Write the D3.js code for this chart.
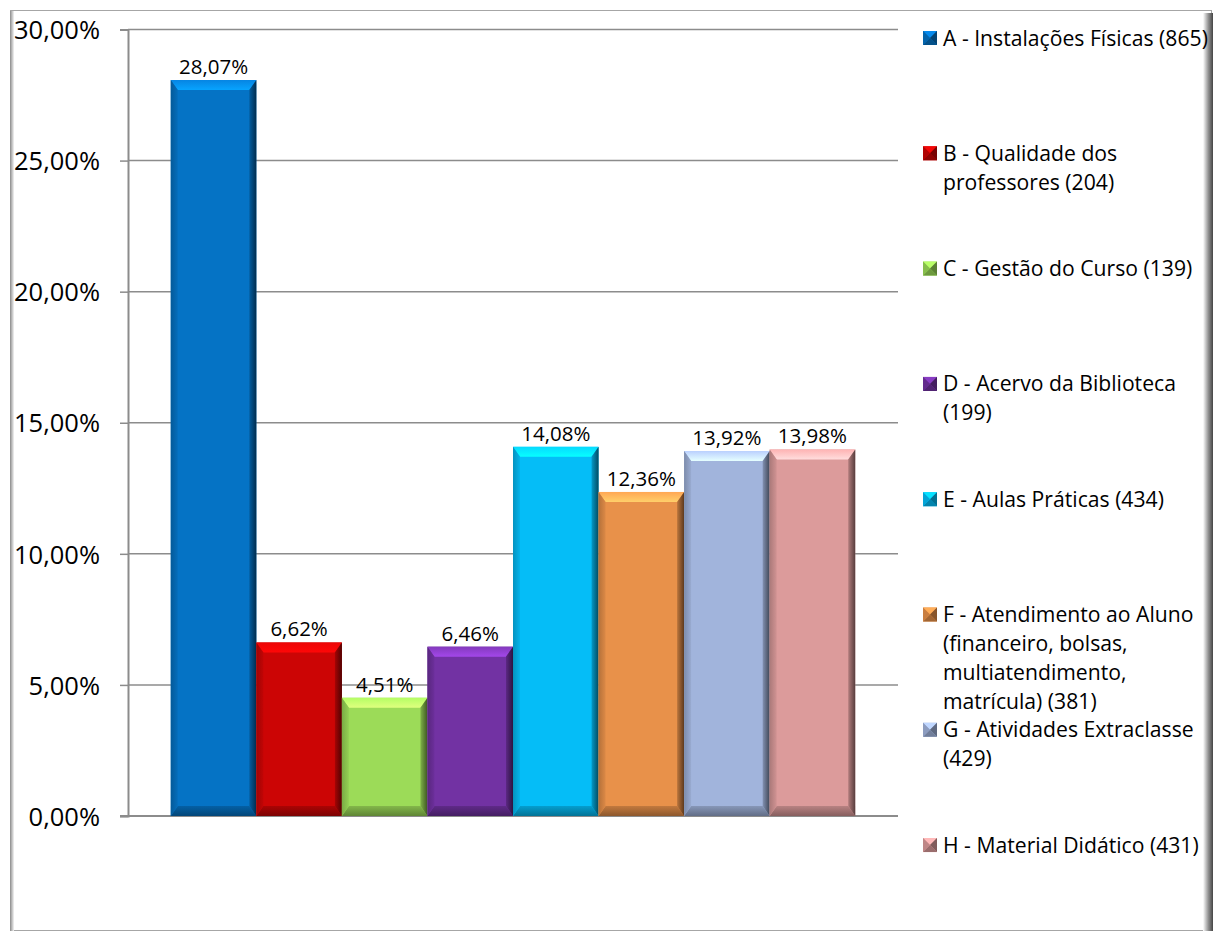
<!DOCTYPE html>
<html>
<head>
<meta charset="utf-8">
<script src="https://cdn.jsdelivr.net/npm/d3@7"></script>
<style>
  html, body { margin: 0; padding: 0; background: #fff; }
  svg { display: block; }
  text { font-family: "Open Sans", "Noto Sans", sans-serif; fill: #000; }
</style>
</head>
<body>
<svg id="chart" width="1219" height="933"></svg>
<script>
// ---- data ----
const categories = ["A", "B", "C", "D", "E", "F", "G", "H"];
const values = [28.07, 6.62, 4.51, 6.46, 14.08, 12.36, 13.92, 13.98];
const valueLabels = ["28,07%", "6,62%", "4,51%", "6,46%", "14,08%", "12,36%", "13,92%", "13,98%"];
const colors = ["#0573c5", "#cc0505", "#9cdb58", "#7232a3", "#05bdf7", "#e8914a", "#a1b4dc", "#dc9b9b"];
const legendLines = [
  ["A - Instalações Físicas (865)"],
  ["B - Qualidade dos", "professores (204)"],
  ["C - Gestão do Curso (139)"],
  ["D - Acervo da Biblioteca", "(199)"],
  ["E - Aulas Práticas (434)"],
  ["F - Atendimento ao Aluno", "(financeiro, bolsas,", "multiatendimento,", "matrícula) (381)"],
  ["G - Atividades Extraclasse", "(429)"],
  ["H - Material Didático (431)"]
];
const yTicks = [0, 5, 10, 15, 20, 25, 30];
const yTickLabels = ["0,00%", "5,00%", "10,00%", "15,00%", "20,00%", "25,00%", "30,00%"];

// ---- layout ----
const svg = d3.select("#chart");
const plot = { left: 128, right: 898, top: 29.5, bottom: 816 };

const x = d3.scaleBand().domain(categories).range([plot.left, plot.right]).paddingInner(0).paddingOuter(0.5);
const y = d3.scaleLinear().domain([0, 30]).range([plot.bottom, plot.top]);

const defs = svg.append("defs");

// frame
const gFrame = svg.append("g");
const shadowR = defs.append("linearGradient").attr("id", "shadowR").attr("x1", 0).attr("x2", 1).attr("y1", 0).attr("y2", 0);
shadowR.append("stop").attr("offset", "0%").attr("stop-color", "#ffffff");
shadowR.append("stop").attr("offset", "55%").attr("stop-color", "#8f8f8f");
shadowR.append("stop").attr("offset", "100%").attr("stop-color", "#454545");
const shadowL = defs.append("linearGradient").attr("id", "shadowL").attr("x1", 0).attr("x2", 1).attr("y1", 0).attr("y2", 0);
shadowL.append("stop").attr("offset", "0%").attr("stop-color", "#8a8a8a");
shadowL.append("stop").attr("offset", "100%").attr("stop-color", "#f4f4f4");
gFrame.append("rect").attr("x", 10.5).attr("y", 10.5).attr("width", 1201).attr("height", 920)
  .attr("fill", "#fff").attr("stroke", "#a6a6a6").attr("stroke-width", 1);
gFrame.append("rect").attr("x", 1203).attr("y", 13).attr("width", 10).attr("height", 918).attr("fill", "url(#shadowR)");
gFrame.append("rect").attr("x", 10).attr("y", 11).attr("width", 4).attr("height", 920).attr("fill", "url(#shadowL)");

// gridlines
const gGrid = svg.append("g");
gGrid.selectAll("line").data(yTicks.filter(d => d > 0)).join("line")
  .attr("x1", plot.left).attr("x2", plot.right)
  .attr("y1", d => y(d)).attr("y2", d => y(d))
  .attr("stroke", "#8c8c8c").attr("stroke-width", 1.5);

// y axis
const yAxis = d3.axisLeft(y).tickValues(yTicks).tickSize(8).tickPadding(20)
  .tickFormat((d, i) => yTickLabels[i]);
const gY = svg.append("g").attr("transform", `translate(${plot.left},0)`).call(yAxis);
gY.select(".domain").attr("stroke", "#8c8c8c").attr("stroke-width", 2);
gY.selectAll(".tick line").attr("stroke", "#8c8c8c").attr("stroke-width", 1.5);
gY.selectAll(".tick text").attr("font-size", 25.5).attr("font-family", "'Open Sans', sans-serif").attr("fill", "#000").attr("dy", "0.36em");

// baseline
svg.append("line").attr("x1", plot.left - 8).attr("x2", plot.right)
  .attr("y1", y(0)).attr("y2", y(0)).attr("stroke", "#8c8c8c").attr("stroke-width", 2);

// bars with bevel
const gBars = svg.append("g");
const bt = 10, bs = 7;
categories.forEach((c, i) => {
  const x0 = x(c), x1 = x(c) + x.bandwidth();
  const y0 = y(values[i]), y1 = y(0);
  const base = d3.color(colors[i]);
  const g = gBars.append("g");
  const gidR = "gr" + i, gidT = "gt" + i, gidB = "gb" + i, gidL = "gl" + i;
  const gr = defs.append("linearGradient").attr("id", gidR).attr("x1", 0).attr("x2", 1).attr("y1", 0).attr("y2", 0);
  gr.append("stop").attr("offset", "0%").attr("stop-color", base.darker(0.6));
  gr.append("stop").attr("offset", "100%").attr("stop-color", base.darker(2.6));
  const gt = defs.append("linearGradient").attr("id", gidT).attr("x1", 0).attr("x2", 0).attr("y1", 0).attr("y2", 1);
  gt.append("stop").attr("offset", "0%").attr("stop-color", base.brighter(0.4));
  gt.append("stop").attr("offset", "100%").attr("stop-color", base.brighter(1.0));
  const gb = defs.append("linearGradient").attr("id", gidB).attr("x1", 0).attr("x2", 0).attr("y1", 0).attr("y2", 1);
  gb.append("stop").attr("offset", "0%").attr("stop-color", base.darker(0.5));
  gb.append("stop").attr("offset", "100%").attr("stop-color", base.darker(1.4));
  const gl = defs.append("linearGradient").attr("id", gidL).attr("x1", 0).attr("x2", 1).attr("y1", 0).attr("y2", 0);
  gl.append("stop").attr("offset", "0%").attr("stop-color", base.darker(0.7));
  gl.append("stop").attr("offset", "100%").attr("stop-color", base.darker(0.15));

  g.append("rect").attr("x", x0).attr("y", y0).attr("width", x1 - x0).attr("height", y1 - y0).attr("fill", base);
  g.append("polygon").attr("points", [[x0, y0], [x1, y0], [x1 - bs, y0 + bt], [x0 + bs, y0 + bt]].join(" ")).attr("fill", `url(#${gidT})`);
  g.append("polygon").attr("points", [[x0, y1], [x1, y1], [x1 - bs, y1 - bt], [x0 + bs, y1 - bt]].join(" ")).attr("fill", `url(#${gidB})`);
  g.append("polygon").attr("points", [[x0, y0], [x0 + bs, y0 + bt], [x0 + bs, y1 - bt], [x0, y1]].join(" ")).attr("fill", `url(#${gidL})`);
  g.append("polygon").attr("points", [[x1, y0], [x1, y1], [x1 - bs, y1 - bt], [x1 - bs, y0 + bt]].join(" ")).attr("fill", `url(#${gidR})`);
});

// value labels
svg.append("g").selectAll("text").data(categories).join("text")
  .attr("x", d => x(d) + x.bandwidth() / 2)
  .attr("y", (d, i) => y(values[i]) - 6)
  .attr("text-anchor", "middle").attr("font-size", 20.5)
  .text((d, i) => valueLabels[i]);

// legend
const gLeg = svg.append("g");
const legTop = 38, legStep = 115.3, lineH = 29, iconX = 923, textX = 943, iconS = 14;
const legTexts = [];
categories.forEach((c, i) => {
  const cy = legTop + legStep * i;
  const base = d3.color(colors[i]);
  const gi = gLeg.append("g");
  const ix0 = iconX, ix1 = iconX + iconS, iy0 = cy - iconS / 2, iy1 = cy + iconS / 2, mx = (ix0 + ix1) / 2, my = cy;
  gi.append("rect").attr("x", ix0).attr("y", iy0).attr("width", iconS).attr("height", iconS).attr("fill", base);
  gi.append("polygon").attr("points", [[ix0, iy0], [ix1, iy0], [mx, my]].join(" ")).attr("fill", base.brighter(0.5));
  gi.append("polygon").attr("points", [[ix1, iy0], [ix1, iy1], [mx, my]].join(" ")).attr("fill", base.darker(1.5));
  gi.append("polygon").attr("points", [[ix0, iy1], [ix1, iy1], [mx, my]].join(" ")).attr("fill", base.darker(1.0));
  gi.append("polygon").attr("points", [[ix0, iy0], [ix0, iy1], [mx, my]].join(" ")).attr("fill", base.darker(0.4));
  legendLines[i].forEach((ln, j) => {
    const t = gLeg.append("text").attr("font-size", 21).attr("dy", "0.36em").text(ln);
    legTexts.push({ t, x: textX, y: cy + j * lineH });
  });
});
// fit legend text width to the original's face
const ref = legTexts[0].t.node().getComputedTextLength();
const k = Math.max(0.85, Math.min(1.05, 265 / ref));
legTexts.forEach(o => o.t.attr("transform", `translate(${o.x},${o.y}) scale(${k},1)`));
</script>
</body>
</html>
